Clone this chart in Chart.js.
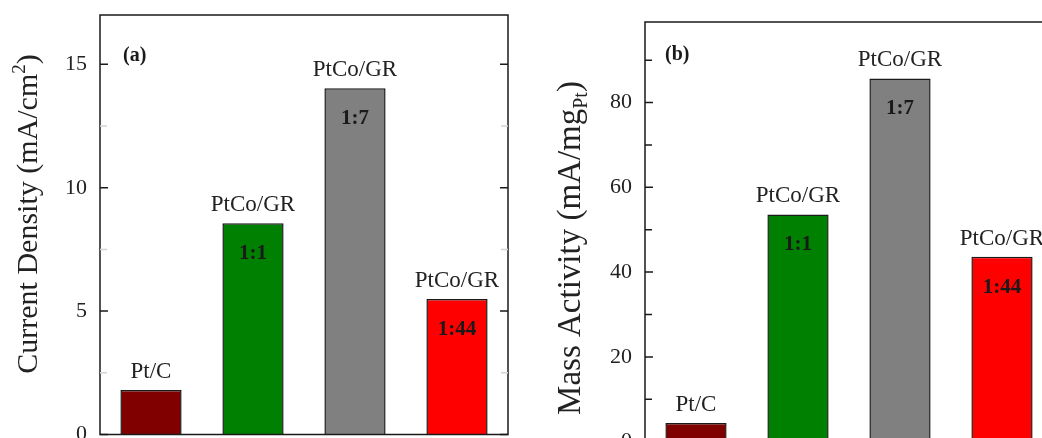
<!DOCTYPE html>
<html>
<head>
<meta charset="utf-8">
<script src="https://cdn.jsdelivr.net/npm/chart.js@4.4.0/dist/chart.umd.min.js"></script>
<style>
  html, body { margin: 0; padding: 0; background: #fff; overflow: hidden; width: 1042px; height: 438px; }
  .panel { position: absolute; top: 0; width: 530px; height: 480px; }
  #panelA { left: 0; }
  #panelB { left: 540px; }
</style>
</head>
<body>
<div class="panel" id="panelA"><canvas id="chartA"></canvas></div>
<div class="panel" id="panelB"><canvas id="chartB"></canvas></div>
<script>
const categories = ['Pt/C', 'PtCo/GR', 'PtCo/GR', 'PtCo/GR'];
const ratios = ['', '1:1', '1:7', '1:44'];
const currentDensity = [1.8, 8.56, 14.03, 5.49];
const massActivity = [4.4, 53.6, 85.7, 43.6];
const barColors = ['#800000', '#008000', '#808080', '#ff0000'];
const ticksA = [0, 5, 10, 15];
const minorTicksA = [2.5, 7.5, 12.5];
const ticksB = [0, 20, 40, 60, 80];
const minorTicksB = [10, 30, 50, 70, 90];

const serif = '"Liberation Serif", "Times New Roman", serif';
Chart.defaults.font.family = serif;
Chart.defaults.color = '#222';

// frame, inward ticks, labels on bars, panel letter and the y title with sub/superscript
const figurePlugin = {
    id: 'figure',
    afterDatasetsDraw(chart, args, opts) {
        const ctx = chart.ctx;
        const meta = chart.getDatasetMeta(0);
        ctx.save();
        ctx.textAlign = 'center';
        ctx.textBaseline = 'alphabetic';
        meta.data.forEach((bar, i) => {
            ctx.fillStyle = '#222';
            ctx.font = '23px ' + serif;
            ctx.fillText(categories[i], bar.x, bar.y - 12);
            if (ratios[i]) {
                ctx.fillStyle = '#1a1a1a';
                ctx.font = 'bold 21px ' + serif;
                ctx.fillText(ratios[i], bar.x, bar.y + 36);
            }
        });
        ctx.restore();
    },
    afterDraw(chart, args, opts) {
        const ctx = chart.ctx;
        const a = chart.chartArea;
        const y = chart.scales.y;
        ctx.save();
        ctx.strokeStyle = '#1a1a1a';
        ctx.lineWidth = 1.5;
        ctx.strokeRect(a.left, a.top, a.right - a.left, a.bottom - a.top);

        const tick = (v, len, color) => {
            const py = y.getPixelForValue(v);
            ctx.strokeStyle = color;
            ctx.beginPath();
            ctx.moveTo(a.left, py); ctx.lineTo(a.left + len, py);
            ctx.moveTo(a.right, py); ctx.lineTo(a.right - len, py);
            ctx.stroke();
        };
        opts.major.forEach(v => tick(v, 8, '#1a1a1a'));
        opts.minor.forEach(v => tick(v, 7, opts.minorColor));

        // panel letter
        ctx.fillStyle = '#1a1a1a';
        ctx.font = 'bold 20px ' + serif;
        ctx.textAlign = 'left';
        ctx.fillText(opts.letter, a.left + opts.letterDx, a.top + opts.letterDy);

        // rotated y title
        const size = opts.titleSize;
        ctx.translate(opts.titleX, opts.titleY);
        ctx.rotate(-Math.PI / 2);
        const fontOf = s => (s.sup || s.sub ? Math.round(size * 0.62) : size) + 'px ' + serif;
        let total = 0;
        opts.title.forEach(s => { ctx.font = fontOf(s); total += ctx.measureText(s.text).width; });
        let cx = -total / 2;
        ctx.fillStyle = '#222';
        opts.title.forEach(s => {
            ctx.font = fontOf(s);
            const dy = s.sup ? -size * 0.4 : s.sub ? size * 0.22 : 0;
            ctx.fillText(s.text, cx, dy);
            cx += ctx.measureText(s.text).width;
        });
        ctx.restore();
    }
};

function makeChart(id, values, max, major, minor, yWidth, padding, fig) {
    return new Chart(document.getElementById(id), {
        type: 'bar',
        data: {
            labels: categories,
            datasets: [{
                data: values,
                backgroundColor: barColors,
                borderColor: '#1a1a1a',
                borderWidth: 1.5,
                barPercentage: 0.6,
                categoryPercentage: 1.0
            }]
        },
        options: {
            responsive: true,
            maintainAspectRatio: false,
            animation: false,
            layout: {padding: padding},
            scales: {
                x: {display: false},
                y: {
                    min: 0,
                    max: max,
                    afterBuildTicks: axis => { axis.ticks = major.map(v => ({value: v})); },
                    afterFit: axis => {
                        axis.width = yWidth;
                        axis.paddingTop = 0;
                        axis.paddingBottom = 0;
                    },
                    ticks: {font: {size: 22}, color: '#222', padding: 13},
                    grid: {display: false, drawTicks: false},
                    border: {display: false}
                }
            },
            plugins: {
                legend: {display: false},
                tooltip: {enabled: false},
                figure: Object.assign({major: major, minor: minor}, fig)
            }
        },
        plugins: [figurePlugin]
    });
}

makeChart('chartA', currentDensity, 17, ticksA, minorTicksA, 100,
    {left: 0, top: 15, right: 22, bottom: 45.5},
    {
        minorColor: '#d4d4d4', letter: '(a)', letterDx: 23, letterDy: 46,
        titleSize: 30, titleX: 37, titleY: 214,
        title: [{text: 'Current Density (mA/cm'}, {text: '2', sup: true}, {text: ')'}]
    });

makeChart('chartB', massActivity, 99, ticksB, minorTicksB, 105,
    {left: 0, top: 22, right: 17, bottom: 38.3},
    {
        minorColor: '#1a1a1a', letter: '(b)', letterDx: 20, letterDy: 38,
        titleSize: 33, titleX: 40, titleY: 248,
        title: [{text: 'Mass Activity (mA/mg'}, {text: 'Pt', sub: true}, {text: ')'}]
    });
</script>
</body>
</html>
